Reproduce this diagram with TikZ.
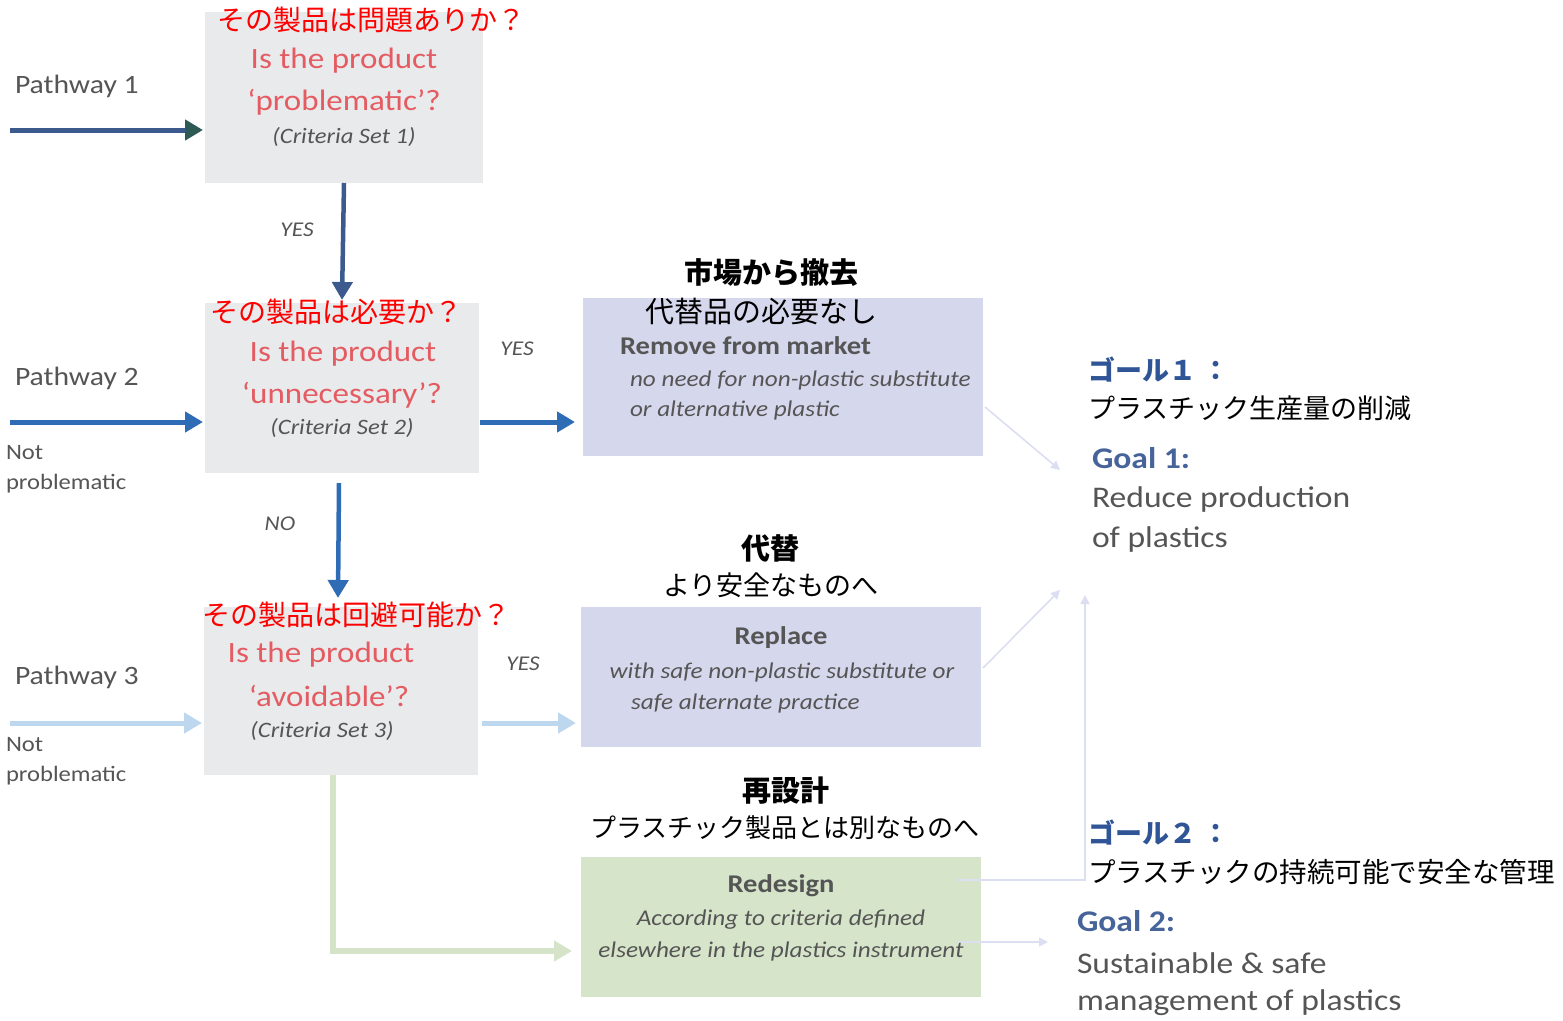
\documentclass[tikz,border=0pt]{standalone}
\usepackage{fontspec}
\setmainfont{Carlito}[FakeStretch=1.12]
\newfontfamily\jp{Noto Sans CJK JP}
\usetikzlibrary{arrows.meta}
\definecolor{boxgray}{HTML}{E9EAEC}
\definecolor{lav}{HTML}{D5D7EC}
\definecolor{grn}{HTML}{D6E4CA}
\definecolor{dblue}{HTML}{3C5A8E}
\definecolor{dteal}{HTML}{2E5A55}
\definecolor{mblue}{HTML}{2E6DB5}
\definecolor{lblue}{HTML}{BDD7EE}
\definecolor{gline}{HTML}{D5E4C9}
\definecolor{thin}{HTML}{DCDEF1}
\definecolor{jred}{HTML}{FF0000}
\definecolor{enred}{HTML}{E45C62}
\definecolor{tgray}{HTML}{555555}
\definecolor{gblue}{HTML}{2F5597}
\definecolor{gblue2}{HTML}{46649A}
\begin{document}
\begin{tikzpicture}[x=1pt,y=-1pt,
  box/.style={anchor=north west,inner sep=0pt,outer sep=0pt},
  t/.style={inner sep=0pt,outer sep=0pt,align=center},
  jpred/.style={t,font=\jp\fontsize{28}{34}\selectfont,text=jred},
  enred/.style={t,font=\fontsize{29.5}{34}\selectfont,text=enred},
  crit/.style={t,font=\itshape\fontsize{22}{26}\selectfont,text=tgray},
  pathlbl/.style={t,anchor=west,font=\fontsize{26.5}{30}\selectfont,text=tgray},
  notlbl/.style={t,anchor=west,font=\fontsize{22}{26}\selectfont,text=tgray},
  yeslbl/.style={t,font=\itshape\fontsize{21}{24}\selectfont,text=tgray},
  jphead/.style={t,font=\jp\bfseries\fontsize{29}{34}\selectfont,text=black},
  jpsub/.style={t,font=\jp\fontsize{27}{32}\selectfont,text=black},
  enhead/.style={t,font=\bfseries\fontsize{25.5}{28}\selectfont,text=tgray},
  enit/.style={t,font=\itshape\fontsize{22.5}{26}\selectfont,text=tgray},
  goaljp/.style={t,anchor=west,font=\jp\bfseries\fontsize{27}{32}\selectfont,text=gblue},
  goaljpsub/.style={t,anchor=west,font=\jp\fontsize{27.5}{32}\selectfont,text=black},
  goalen/.style={t,anchor=west,font=\bfseries\fontsize{30}{34}\selectfont,text=gblue2},
  goalensub/.style={t,anchor=west,font=\fontsize{30}{34}\selectfont,text=tgray},
  bigarrow/.style={line width=5pt,-{Triangle[length=18pt,width=20pt]}},
  thinarrow/.style={line width=1.6pt,draw=thin,-{Triangle[length=9pt,width=9pt]}}
]
\useasboundingbox (0,0) rectangle (1563,1020);

% boxes
\node[box,fill=boxgray,minimum width=278pt,minimum height=171pt] (b1) at (205,12) {};
\node[box,fill=boxgray,minimum width=274pt,minimum height=170pt] (b2) at (205,303) {};
\node[box,fill=boxgray,minimum width=274pt,minimum height=168pt] (b3) at (204,607) {};
\node[box,fill=lav,minimum width=400pt,minimum height=158pt] (rem) at (583,298) {};
\node[box,fill=lav,minimum width=400pt,minimum height=140pt] (rep) at (581,607) {};
\node[box,fill=grn,minimum width=400pt,minimum height=140pt] (red) at (581,857) {};

% coordinates
\coordinate (p1) at (10,130);
\coordinate (p2) at (10,422);
\coordinate (p3) at (10,723);
\coordinate (gl) at (0,951);
\coordinate (g1a) at (1060,470);
\coordinate (g1b) at (1060,590);
\coordinate (g2a) at (1085,595);
\coordinate (g2b) at (1048,942);

% arrows
\draw[bigarrow,draw=dblue,-{Triangle[length=18pt,width=20pt,color=dteal]}] (p1) -- ([xshift=-2pt]b1.west |- p1);
\draw[bigarrow,draw=mblue] (p2) -- ([xshift=-2pt]b2.west |- p2);
\draw[bigarrow,draw=lblue] (p3) -- ([xshift=-2pt]b3.west |- p3);
\draw[bigarrow,draw=dblue,line width=4.5pt] (b1.south) -- ([yshift=3pt]b2.north);
\draw[bigarrow,draw=mblue] ([xshift=1pt]b2.east |- p2) -- ([xshift=-8pt]rem.west |- p2);
\draw[bigarrow,draw=mblue,line width=4.5pt] ([xshift=-3pt,yshift=-10pt]b2.south) -- ([xshift=-3pt,yshift=9pt]b3.north);
\draw[bigarrow,draw=lblue] ([xshift=4pt]b3.east |- p3) -- ([xshift=-5pt]rep.west |- p3);
\draw[bigarrow,draw=gline,line width=6pt] ([xshift=-8pt]b3.south) |- ([xshift=-9pt]red.west |- gl);
\draw[thinarrow] ([xshift=2pt,yshift=-30pt]rem.east) -- (g1a);
\draw[thinarrow] ([xshift=2pt,yshift=9pt]rep.east) -- (g1b);
\draw[thinarrow] ([xshift=-23pt,yshift=47pt]red.east) -| (g2a);
\draw[thinarrow] ([xshift=-23pt,yshift=-15pt]red.east) -- (g2b);

% left labels
\node[pathlbl] (pw1) at (15,86) {Pathway 1};
\node[pathlbl] (pw2) at (15,378) {Pathway 2};
\node[pathlbl] (pw3) at (15,677) {Pathway 3};
\node[notlbl] (n2a) at (6,453) {Not};
\node[notlbl] (n2b) at (6,484) {problematic};
\node[notlbl] (n3a) at (6,745) {Not};
\node[notlbl] (n3b) at (6,776) {problematic};
\node[yeslbl] (y1) at (297,230) {YES};
\node[yeslbl] (y2) at (517,349) {YES};
\node[yeslbl] (no1) at (280,524) {NO};
\node[yeslbl] (y3) at (523,664) {YES};

% box 1
\node[jpred] (q1jp) at (371,20) {その製品は問題ありか？};
\node[enred] (q1a) at (344,61) {Is the product};
\node[enred] (q1b) at (344,102) {‘problematic’?};
\node[crit] (q1c) at (344,137) {(Criteria Set 1)};
% box 2
\node[jpred] (q2jp) at (336,312) {その製品は必要か？};
\node[enred] (q2a) at (343,354) {Is the product};
\node[enred] (q2b) at (342,395) {‘unnecessary’?};
\node[crit] (q2c) at (342,428) {(Criteria Set 2)};
% box 3
\node[jpred] (q3jp) at (356,615) {その製品は回避可能か？};
\node[enred] (q3a) at (321,655) {Is the product};
\node[enred] (q3b) at (329,696) {‘avoidable’?};
\node[crit] (q3c) at (322,731) {(Criteria Set 3)};

% remove
\node[jphead] (remjp) at (771,273) {市場から撤去};
\node[jpsub,font=\jp\fontsize{29}{34}\selectfont] (remjp2) at (761,312) {代替品の必要なし};
\node[enhead,anchor=west] (remen) at (620,346) {Remove from market};
\node[enit,anchor=west] (remen2) at (630,380) {no need for non-plastic substitute};
\node[enit,anchor=west] (remen3) at (630,410) {or alternative plastic};
% replace
\node[jphead] (repjp) at (770,548) {代替};
\node[jpsub] (repjp2) at (771,585) {より安全なものへ};
\node[enhead] (repen) at (781,638) {Replace};
\node[enit] (repen2) at (782,672) {with safe non-plastic substitute or};
\node[enit,anchor=west] (repen3) at (631,703) {safe alternate practice};
% redesign
\node[jphead] (redjp) at (786,791) {再設計};
\node[jpsub,font=\jp\fontsize{26}{30}\selectfont] (redjp2) at (785,828) {プラスチック製品とは別なものへ};
\node[enhead] (reden) at (781,886) {Redesign};
\node[enit] (reden2) at (781,920) {According to criteria defined};
\node[enit] (reden3) at (781,951) {elsewhere in the plastics instrument};

% goals
\node[goaljp] (g1jp) at (1088,370) {ゴール１ ：};
\node[goaljpsub,font=\jp\fontsize{27}{32}\selectfont] (g1jp2) at (1088,408) {プラスチック生産量の削減};
\node[goalen] (g1en) at (1092,458) {Goal 1:};
\node[goalensub] (g1en2) at (1092,499) {Reduce production};
\node[goalensub] (g1en3) at (1092,539) {of plastics};
\node[goaljp] (g2jp) at (1088,833) {ゴール２ ：};
\node[goaljpsub] (g2jp2) at (1088,872) {プラスチックの持続可能で安全な管理};
\node[goalen] (g2en) at (1077,921) {Goal 2:};
\node[goalensub] (g2en2) at (1077,963) {Sustainable \& safe};
\node[goalensub] (g2en3) at (1077,1003) {management of plastics};
\end{tikzpicture}
\end{document}
